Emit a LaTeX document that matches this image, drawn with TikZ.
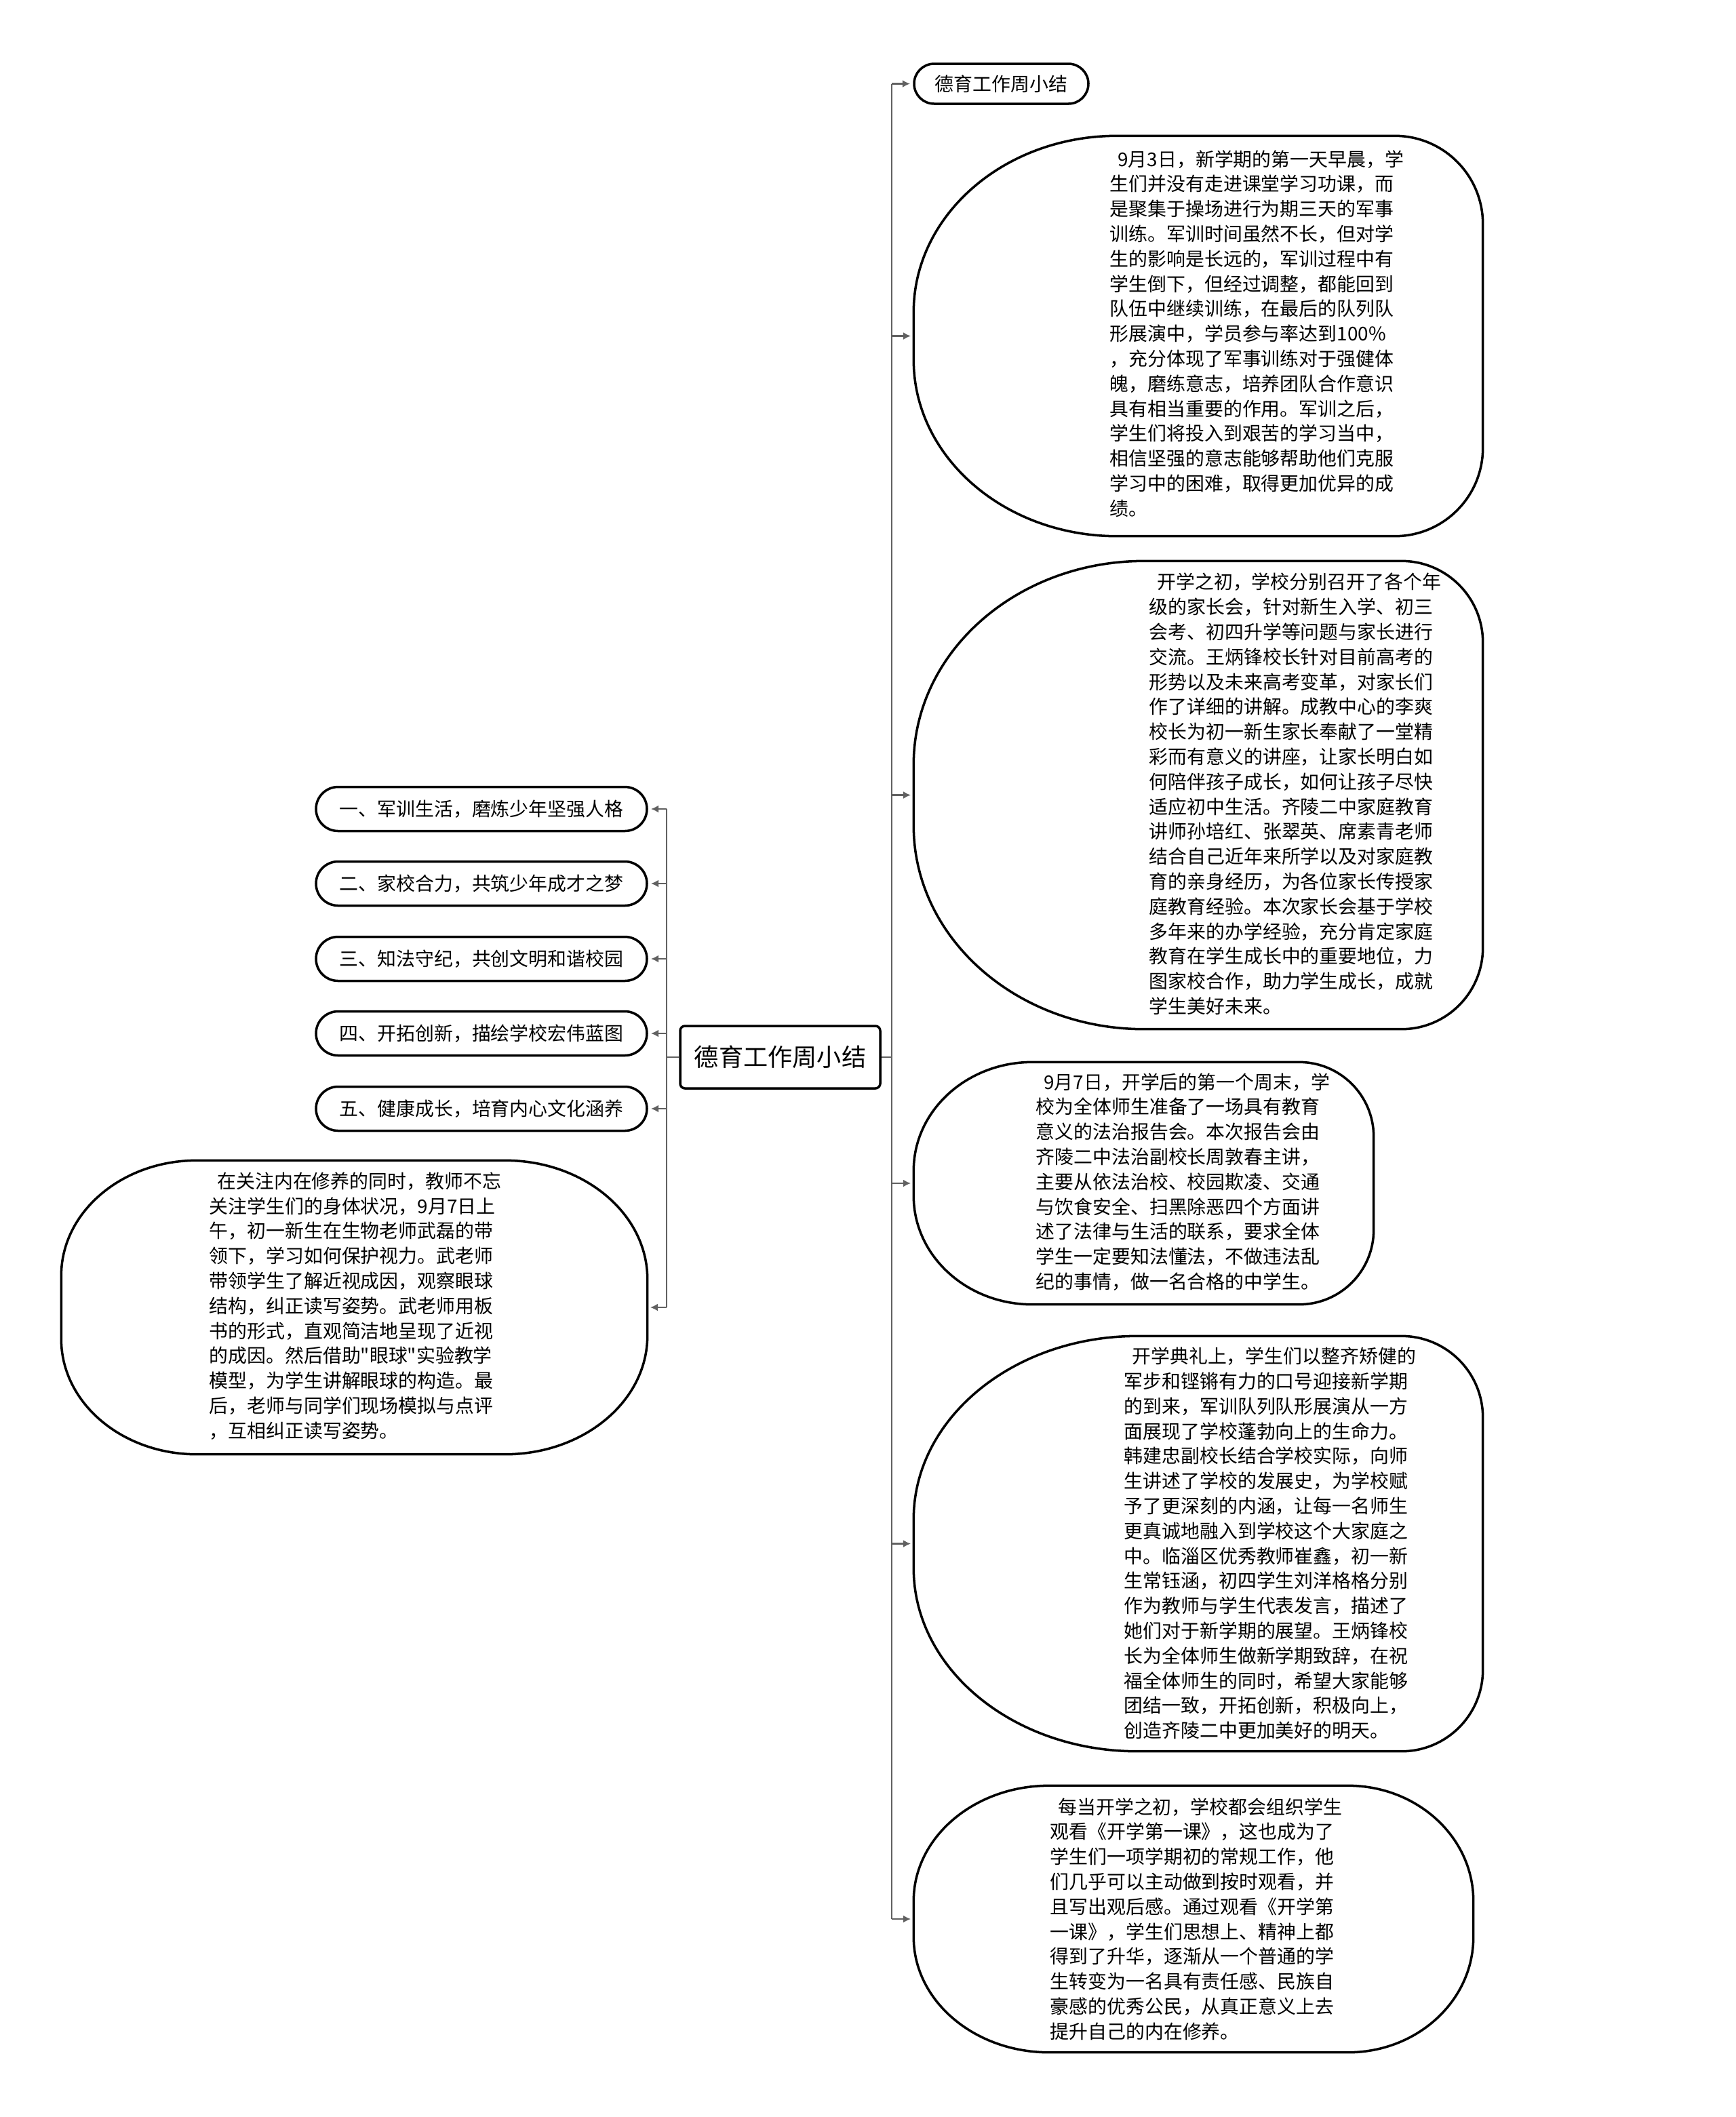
\documentclass[tikz,border=0pt]{standalone}
\usepackage{fontspec}
\newfontfamily\cjk{Noto Sans CJK SC}
\usetikzlibrary{arrows.meta}
\tikzset{
  box/.style={rectangle, inner sep=0pt},
  pill/.style={draw, line width=1pt, rectangle, inner sep=0pt},
  body/.style={inner sep=0pt, anchor=west, align=left, font=\cjk\fontsize{7.94pt}{10.47pt}\selectfont},
  link/.style={draw=black!62, line width=0.8pt},
  tip/.style={link, -{Latex[length=3.2pt,width=3.2pt]}, shorten >=1.2pt}
}
\newcommand{\lead}{\hspace*{0.42em}}
% outline of a box: #1 node, #2/#3 left corner radii (x/y), #4/#5 right corner radii (x/y)
\newcommand{\bubble}[5]{\draw[line width=1pt] ([xshift=#2]#1.north west) -- ([xshift=-#4]#1.north east) arc[start angle=90, end angle=0, x radius=#4, y radius=#5] -- ([yshift=#5]#1.south east) arc[start angle=0, end angle=-90, x radius=#4, y radius=#5] -- ([xshift=#2]#1.south west) arc[start angle=270, end angle=180, x radius=#2, y radius=#3] -- ([yshift=-#3]#1.north west) arc[start angle=180, end angle=90, x radius=#2, y radius=#3] -- cycle;}

\begin{document}
\begin{tikzpicture}
\useasboundingbox (0,0) rectangle (25.6,-31.22);
\node[draw, line width=1pt, rounded corners=2pt, minimum width=2.95cm, minimum height=0.92cm, inner sep=0pt, font=\cjk\fontsize{10.3pt}{12pt}\selectfont] (root) at (11.505,-15.59) {德育工作周小结};
\coordinate (ls) at (9.83,-15.59);
\coordinate (rs) at (13.15,-15.59);
\draw[link] (root.west) -- (ls);
\draw[link] (root.east) -- (rs);

\node[pill, rounded corners=0.325cm, minimum width=4.88cm, minimum height=0.65cm, font=\cjk\fontsize{7.94pt}{10.47pt}\selectfont] (l1) at (7.10,-11.93) {一、军训生活，磨炼少年坚强人格};
\node[pill, rounded corners=0.325cm, minimum width=4.88cm, minimum height=0.65cm, font=\cjk\fontsize{7.94pt}{10.47pt}\selectfont] (l2) at (7.10,-13.03) {二、家校合力，共筑少年成才之梦};
\node[pill, rounded corners=0.325cm, minimum width=4.88cm, minimum height=0.65cm, font=\cjk\fontsize{7.94pt}{10.47pt}\selectfont] (l3) at (7.10,-14.14) {三、知法守纪，共创文明和谐校园};
\node[pill, rounded corners=0.325cm, minimum width=4.88cm, minimum height=0.65cm, font=\cjk\fontsize{7.94pt}{10.47pt}\selectfont] (l4) at (7.10,-15.24) {四、开拓创新，描绘学校宏伟蓝图};
\node[pill, rounded corners=0.325cm, minimum width=4.88cm, minimum height=0.65cm, font=\cjk\fontsize{7.94pt}{10.47pt}\selectfont] (l5) at (7.10,-16.35) {五、健康成长，培育内心文化涵养};
\node[box, minimum width=8.63cm, minimum height=4.32cm] (l6) at (5.225,-19.28) {};
\bubble{l6}{2.0cm}{1.7cm}{2.1cm}{1.75cm}
\node[body] (l6t) at (3.08,-19.26) {\lead 在关注内在修养的同时，教师不忘\\关注学生们的身体状况，9月7日上\\午，初一新生在生物老师武磊的带\\领下，学习如何保护视力。武老师\\带领学生了解近视成因，观察眼球\\结构，纠正读写姿势。武老师用板\\书的形式，直观简洁地呈现了近视\\的成因。然后借助"眼球"实验教学\\模型，为学生讲解眼球的构造。最\\后，老师与同学们现场模拟与点评\\，互相纠正读写姿势。};

\draw[link] (ls |- l1) -- (ls |- l6);
\draw[tip] (ls |- l1) -- (l1.east);
\draw[tip] (ls |- l2) -- (l2.east);
\draw[tip] (ls |- l3) -- (l3.east);
\draw[tip] (ls |- l4) -- (l4.east);
\draw[tip] (ls |- l5) -- (l5.east);
\draw[tip] (ls |- l6) -- (l6.east);

\node[pill, rounded corners=0.295cm, minimum width=2.57cm, minimum height=0.59cm, font=\cjk\fontsize{7.94pt}{10.47pt}\selectfont] (r0) at (14.765,-1.235) {德育工作周小结};
\node[box, minimum width=8.38cm, minimum height=5.89cm] (r1) at (17.67,-4.955) {};
\bubble{r1}{3.0cm}{2.6cm}{1.3cm}{1.3cm}
\node[body] (r1t) at (16.36,-4.92) {\lead 9月3日，新学期的第一天早晨，学\\生们并没有走进课堂学习功课，而\\是聚集于操场进行为期三天的军事\\训练。军训时间虽然不长，但对学\\生的影响是长远的，军训过程中有\\学生倒下，但经过调整，都能回到\\队伍中继续训练，在最后的队列队\\形展演中，学员参与率达到100\%\\，充分体现了军事训练对于强健体\\魄，磨练意志，培养团队合作意识\\具有相当重要的作用。军训之后，\\学生们将投入到艰苦的学习当中，\\相信坚强的意志能够帮助他们克服\\学习中的困难，取得更加优异的成\\绩。};
\node[box, minimum width=8.38cm, minimum height=6.89cm] (r2) at (17.67,-11.725) {};
\bubble{r2}{3.4cm}{3.0cm}{1.2cm}{1.2cm}
\node[body] (r2t) at (16.94,-11.71) {\lead 开学之初，学校分别召开了各个年\\级的家长会，针对新生入学、初三\\会考、初四升学等问题与家长进行\\交流。王炳锋校长针对目前高考的\\形势以及未来高考变革，对家长们\\作了详细的讲解。成教中心的李爽\\校长为初一新生家长奉献了一堂精\\彩而有意义的讲座，让家长明白如\\何陪伴孩子成长，如何让孩子尽快\\适应初中生活。齐陵二中家庭教育\\讲师孙培红、张翠英、席素青老师\\结合自己近年来所学以及对家庭教\\育的亲身经历，为各位家长传授家\\庭教育经验。本次家长会基于学校\\多年来的办学经验，充分肯定家庭\\教育在学生成长中的重要地位，力\\图家校合作，助力学生成长，成就\\学生美好未来。};
\node[box, minimum width=6.77cm, minimum height=3.56cm] (r3) at (16.865,-17.45) {};
\bubble{r3}{1.75cm}{1.6cm}{1.1cm}{1.1cm}
\node[body] (r3t) at (15.27,-17.43) {\lead 9月7日，开学后的第一个周末，学\\校为全体师生准备了一场具有教育\\意义的法治报告会。本次报告会由\\齐陵二中法治副校长周敦春主讲，\\主要从依法治校、校园欺凌、交通\\与饮食安全、扫黑除恶四个方面讲\\述了法律与生活的联系，要求全体\\学生一定要知法懂法，不做违法乱\\纪的事情，做一名合格的中学生。};
\node[box, minimum width=8.38cm, minimum height=6.11cm] (r4) at (17.67,-22.765) {};
\bubble{r4}{3.3cm}{2.7cm}{1.2cm}{1.2cm}
\node[body] (r4t) at (16.57,-22.76) {\lead 开学典礼上，学生们以整齐矫健的\\军步和铿锵有力的口号迎接新学期\\的到来，军训队列队形展演从一方\\面展现了学校蓬勃向上的生命力。\\韩建忠副校长结合学校实际，向师\\生讲述了学校的发展史，为学校赋\\予了更深刻的内涵，让每一名师生\\更真诚地融入到学校这个大家庭之\\中。临淄区优秀教师崔鑫，初一新\\生常钰涵，初四学生刘洋格格分别\\作为教师与学生代表发言，描述了\\她们对于新学期的展望。王炳锋校\\长为全体师生做新学期致辞，在祝\\福全体师生的同时，希望大家能够\\团结一致，开拓创新，积极向上，\\创造齐陵二中更加美好的明天。};
\node[box, minimum width=8.24cm, minimum height=3.92cm] (r5) at (17.60,-28.30) {};
\bubble{r5}{2.0cm}{1.7cm}{1.85cm}{1.7cm}
\node[body] (r5t) at (15.48,-28.30) {\lead 每当开学之初，学校都会组织学生\\观看《开学第一课》，这也成为了\\学生们一项学期初的常规工作，他\\们几乎可以主动做到按时观看，并\\且写出观后感。通过观看《开学第\\一课》，学生们思想上、精神上都\\得到了升华，逐渐从一个普通的学\\生转变为一名具有责任感、民族自\\豪感的优秀公民，从真正意义上去\\提升自己的内在修养。};

\draw[link] (rs |- r0) -- (rs |- r5);
\draw[tip] (rs |- r0) -- (r0.west);
\draw[tip] (rs |- r1) -- (r1.west);
\draw[tip] (rs |- r2) -- (r2.west);
\draw[tip] (rs |- r3) -- (r3.west);
\draw[tip] (rs |- r4) -- (r4.west);
\draw[tip] (rs |- r5) -- (r5.west);
\end{tikzpicture}
\end{document}
